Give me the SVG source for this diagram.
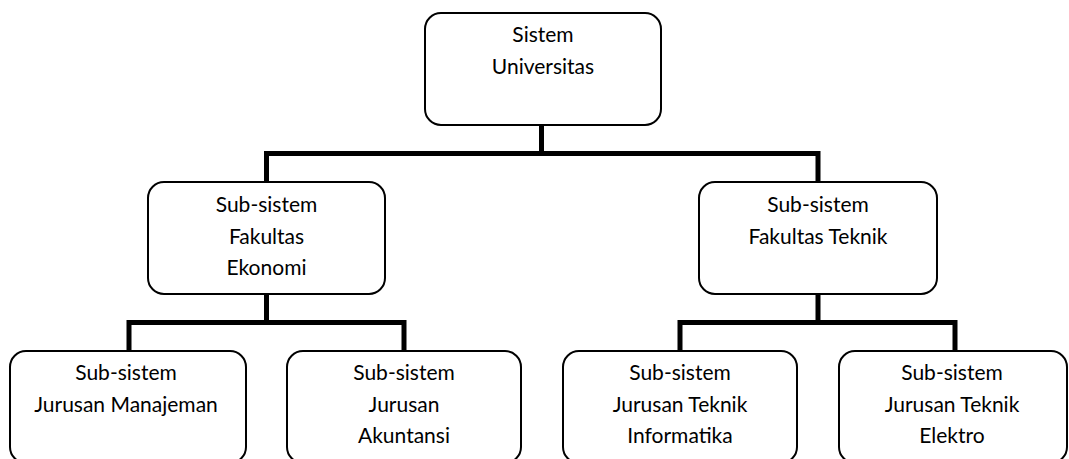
<svg xmlns="http://www.w3.org/2000/svg" width="1069" height="459" viewBox="0 0 1069 459">
<style>
.box{fill:#fff;stroke:#000;stroke-width:2}
.t{font-family:Lato,"Open Sans","DejaVu Sans",sans-serif;font-size:21px;fill:#000;text-anchor:middle}
.c{fill:none;stroke:#000;stroke-width:5;stroke-linecap:square;stroke-linejoin:miter}
</style>
<rect width="1069" height="459" fill="#fff"/>
<g id="connectors">
<path class="c" d="M541.5 125V153.5M266.5 182V153.5H818V182"/>
<path class="c" d="M266.5 294V322.5M129 351V322.5H404V351"/>
<path class="c" d="M818 294V322.5M680 351V322.5H955V351"/>
</g>
<g id="n-universitas">
<rect class="box" x="425" y="13" width="236" height="112" rx="16"/>
<text class="t" x="543" y="42">Sistem</text>
<text class="t" x="543" y="74">Universitas</text>
</g>
<g id="n-fe">
<rect class="box" x="148" y="182" width="237" height="112" rx="16"/>
<text class="t" x="266.5" y="212">Sub-sistem</text>
<text class="t" x="266.5" y="243.5">Fakultas</text>
<text class="t" x="266.5" y="275">Ekonomi</text>
</g>
<g id="n-ft">
<rect class="box" x="699" y="182" width="238" height="112" rx="16"/>
<text class="t" x="818" y="212">Sub-sistem</text>
<text class="t" x="818" y="243.5">Fakultas Teknik</text>
</g>
<g id="n-manajemen">
<rect class="box" x="10" y="351" width="236" height="112" rx="16"/>
<text class="t" x="126" y="380">Sub-sistem</text>
<text class="t" x="126" y="411.5">Jurusan Manajeman</text>
</g>
<g id="n-akuntansi">
<rect class="box" x="287" y="351" width="234" height="112" rx="16"/>
<text class="t" x="404" y="380">Sub-sistem</text>
<text class="t" x="404" y="411.5">Jurusan</text>
<text class="t" x="404" y="443">Akuntansi</text>
</g>
<g id="n-informatika">
<rect class="box" x="563" y="351" width="234" height="112" rx="16"/>
<text class="t" x="680" y="380">Sub-sistem</text>
<text class="t" x="680" y="411.5">Jurusan Teknik</text>
<text class="t" x="680" y="443">Informatika</text>
</g>
<g id="n-elektro">
<rect class="box" x="839" y="351" width="228" height="112" rx="16"/>
<text class="t" x="952" y="380">Sub-sistem</text>
<text class="t" x="952" y="411.5">Jurusan Teknik</text>
<text class="t" x="952" y="443">Elektro</text>
</g>
</svg>
